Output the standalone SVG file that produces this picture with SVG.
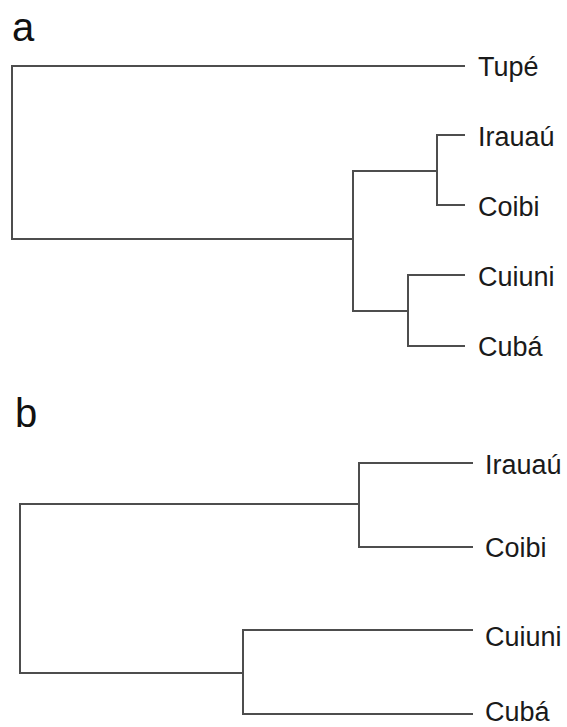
<svg xmlns="http://www.w3.org/2000/svg" width="567" height="727" viewBox="0 0 567 727">
<style>
.e{fill:none;stroke:#4d4d4d;stroke-width:2;stroke-linecap:square}
.lab{font-family:"Liberation Sans",Arial,sans-serif;font-size:27px;fill:#1a1a1a}
.pan{font-family:"Liberation Sans",Arial,sans-serif;font-size:40px;fill:#111}
</style>
<rect width="567" height="727" fill="#fff"/>
<text class="pan" x="12" y="41">a</text>
<text class="pan" x="15" y="427">b</text>
<g id="edges-a">
<path class="e" d="M464,66 H12 V239 H353"/>
<path class="e" d="M353,171 V311"/>
<path class="e" d="M353,171 H437 M464,135 H437 V205 H464"/>
<path class="e" d="M353,311 H408 M464,275 H408 V346 H464"/>
</g>
<g id="edges-b">
<path class="e" d="M359,504 H20 V673 H243"/>
<path class="e" d="M472,463 H359 V547 H472"/>
<path class="e" d="M472,630 H243 V714 H472"/>
</g>
<g id="a-tupe"><text class="lab" x="478" y="76">Tupé</text></g>
<g id="a-irauau"><text class="lab" x="478" y="146">Irauaú</text></g>
<g id="a-coibi"><text class="lab" x="478" y="216">Coibi</text></g>
<g id="a-cuiuni"><text class="lab" x="478" y="286">Cuiuni</text></g>
<g id="a-cuba"><text class="lab" x="478" y="356">Cubá</text></g>
<g id="b-irauau"><text class="lab" x="485" y="474">Irauaú</text></g>
<g id="b-coibi"><text class="lab" x="485" y="557">Coibi</text></g>
<g id="b-cuiuni"><text class="lab" x="485" y="646">Cuiuni</text></g>
<g id="b-cuba"><text class="lab" x="485" y="721">Cubá</text></g>
</svg>
